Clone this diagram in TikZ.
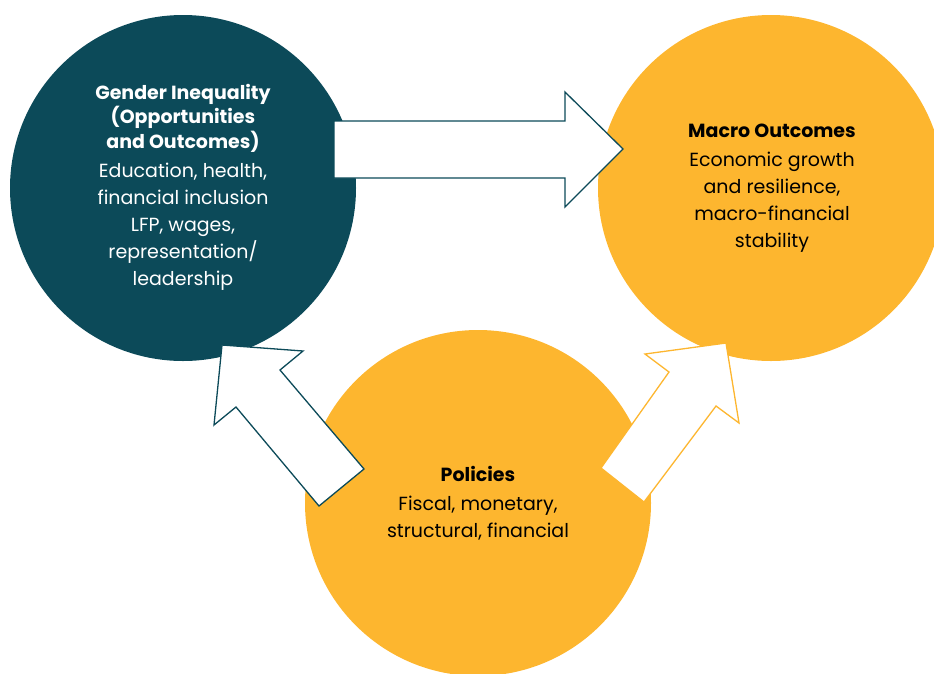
\documentclass[tikz,border=0pt]{standalone}
\usepackage{fontspec}
\setmainfont{Poppins}
\definecolor{teal}{RGB}{12,74,89}
\definecolor{gold}{RGB}{253,182,47}
\begin{document}
\begin{tikzpicture}[x=1pt, y=-1pt,
    blob/.style={circle, minimum size=346pt, inner sep=0pt},
    label/.style={align=center, font=\fontsize{19}{27}\selectfont},
    head/.style={font=\bfseries\fontsize{19}{24.5}\selectfont, align=center},
    blockarrow/.style={fill=white, line width=1.3pt, line join=miter}]
    \useasboundingbox (0,0) rectangle (934,673);
    % Circles
    \node[blob, fill=teal] (gender) at (183,188) {};
    \node[blob, fill=gold] (macro) at (771,188) {};
    \node[blob, fill=gold] (policy) at (478,503) {};

    % Arrows (block shapes)
    \draw[blockarrow, draw=teal] (334,121) -- (565,121) -- (565,92) -- (623,149)
        -- (565,207) -- (565,178) -- (334,178) -- cycle;
    \draw[blockarrow, draw=teal] (222,345) -- (303,351) -- (280,370) -- (364,469)
        -- (319,506) -- (236,407) -- (214,425) -- cycle;
    \draw[blockarrow, draw=gold] (726,343) -- (739,423) -- (716,406) -- (644,502)
        -- (601,468) -- (669,372) -- (645,354) -- cycle;

    % Texts
    \node[head, text=white] (gtitle) at (183,118) {Gender Inequality\\(Opportunities\\and Outcomes)};
    \node[label, text=white] (gtext) at (183,227) {Education, health,\\financial inclusion\\LFP, wages,\\representation/\\leadership};
    \node[head] (mtitle) at (772,131) {Macro Outcomes};
    \node[label] (mtext) at (772,202) {Economic growth\\and resilience,\\macro-financial\\stability};
    \node[head] (ptitle) at (478,474) {Policies};
    \node[label] (ptext) at (478,518) {Fiscal, monetary,\\structural, financial};
\end{tikzpicture}
\end{document}
